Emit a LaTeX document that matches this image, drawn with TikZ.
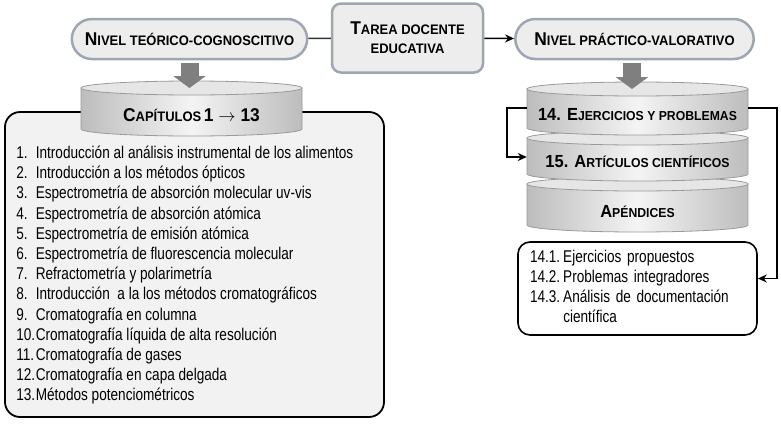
\documentclass[tikz,border=0pt]{standalone}
\usepackage{fontspec}
\setmainfont{Liberation Sans}[FakeStretch=0.8]
\newfontfamily\headfont{Liberation Sans}[FakeStretch=0.94]
\usetikzlibrary{arrows.meta, positioning, shapes.misc}

\definecolor{pillEdge}{HTML}{9EA6B4}
\definecolor{pillFill}{HTML}{EDEDED}
\definecolor{drumDark}{HTML}{BDBDBD}
\definecolor{drumLight}{HTML}{F4F4F4}
\definecolor{drumTop}{HTML}{E6E6E6}
\definecolor{drumEdge}{HTML}{9A9A9A}
\definecolor{boxFill}{HTML}{F2F2F2}
\definecolor{arrowGray}{HTML}{7F7F7F}

% big first letters, the rest in fake small caps
\newcommand{\scap}[2]{{\fontsize{18.5}{20}\selectfont #1}{\fontsize{13.8}{16}\selectfont\MakeUppercase{#2}}}
% same, a bit smaller for the drum segments
\newcommand{\dcap}[2]{{\fontsize{17.5}{20}\selectfont #1}{\fontsize{13}{16}\selectfont\MakeUppercase{#2}}}
% one list entry with its number
\newcommand{\chap}[2]{\makebox[19.5pt][l]{#1}#2}
% a drum segment: left x, right x, top y, bottom y
\newcommand{\drum}[4]{%
  \pgfmathsetmacro{\drumrx}{(#2-#1)/2}
  \shadedraw[left color=drumDark, right color=drumDark, middle color=drumLight,
    draw=drumEdge, line width=0.8pt]
    (#1,#3) -- (#1,#4) arc[start angle=180, end angle=360, x radius=\drumrx, y radius=7]
    -- (#2,#3) -- cycle;
  \draw[drumEdge, fill=drumTop, line width=0.8pt]
    ({(#1+#2)/2},#3) ellipse [x radius=\drumrx, y radius=7];
}

\begin{document}
\begin{tikzpicture}[
  x=1pt, y=1pt,
  pill/.style={rounded rectangle, draw=pillEdge, fill=pillFill, line width=2.5pt,
    minimum height=40pt, font=\headfont\bfseries},
  task/.style={rounded corners=9pt, draw=pillEdge, fill=pillFill, line width=2.5pt,
    minimum width=151pt, minimum height=69pt, align=center, font=\headfont\bfseries},
  drumtext/.style={minimum width=221pt, inner sep=0pt, font=\headfont\bfseries},
  listbox/.style={rounded corners=15pt, draw=black, line width=1.8pt, fill=boxFill},
  listtext/.style={inner sep=0pt, font=\fontsize{17}{20.2}\selectfont},
  subbox/.style={rounded corners=12pt, draw=black, line width=1.6pt, fill=white,
    minimum width=239pt, minimum height=93pt, text width=215pt, inner xsep=12pt,
    align=left, font=\fontsize{17}{20}\selectfont},
  bigarrow/.style={-{Triangle[width=32pt, length=12pt]}, line width=18pt, arrowGray},
  link/.style={-{Stealth[length=9pt, width=8pt]}, line width=1.5pt}]
  \useasboundingbox (0,0) rectangle (781,-426);

  % top row
  \node[pill, minimum width=242pt] (lvl1) at (189.5,-39) {\scap{N}{ivel teórico-cognoscitivo}};
  \node[task] (task) at (407.5,-38) {\scap{T}{area docente}\\[7pt]{\fontsize{13.8}{16}\selectfont EDUCATIVA}};
  \node[pill, minimum width=245pt] (lvl2) at (634.5,-39) {\scap{N}{ivel práctico-valorativo}};
  \draw[line width=1.5pt, black!80] (lvl1) -- (task);
  \draw[link] (task) -- (lvl2);

  % left column
  \node[listbox, minimum width=379pt, minimum height=305pt] (chapbox) at (194.5,-264.5) {};
  \node[listtext, anchor=north west] (chaplist) at ([xshift=12, yshift=-33]chapbox.north west) {%
    \begin{tabular}{@{}l@{}}
      \chap{1.}{Introducción al análisis instrumental de los alimentos}\\
      \chap{2.}{Introducción a los métodos ópticos}\\
      \chap{3.}{Espectrometría de absorción molecular uv-vis}\\
      \chap{4.}{Espectrometría de absorción atómica}\\
      \chap{5.}{Espectrometría de emisión atómica}\\
      \chap{6.}{Espectrometría de fluorescencia molecular}\\
      \chap{7.}{Refractometría y polarimetría}\\
      \chap{8.}{Introducción\ \ a la los métodos cromatográficos}\\
      \chap{9.}{Cromatografía en columna}\\
      \chap{10.}{Cromatografía líquida de alta resolución}\\
      \chap{11.}{Cromatografía de gases}\\
      \chap{12.}{Cromatografía en capa delgada}\\
      \chap{13.}{Métodos potenciométricos}
    \end{tabular}};
  \drum{81}{302}{-88}{-129}
  \node[drumtext] (chaps) at (191.5,-115) {\scap{C}{apítulos} {\fontsize{18.5}{20}\selectfont 1 $\rightarrow$ 13}};
  \coordinate (drum1top) at (189.5,-88);
  \draw[bigarrow] ([yshift=-3]lvl1.south) -- (drum1top);

  % right column
  \drum{527}{748}{-184}{-225}
  \drum{527}{748}{-138}{-174}
  \drum{527}{748}{-89}{-128}
  \node[drumtext] (s1) at (637.5,-115) {\dcap{14. E}{jercicios y problemas}};
  \node[drumtext] (s2) at (637.5,-162) {\dcap{15. A}{rtículos científicos}};
  \node[drumtext] (s3) at (637.5,-212) {\dcap{A}{péndices}};
  \coordinate (drum2top) at (632,-89);
  \draw[bigarrow] ([yshift=-3]lvl2.south -| drum2top) -- (drum2top);

  \node[subbox] (sub) at (637.5,-288.5) {%
    \begin{tabular}{@{}l@{\hspace{3pt}}l@{}}
      14.1. & Ejercicios propuestos\\
      14.2. & Problemas integradores\\
      14.3. & Análisis de documentación\\
            & científica
    \end{tabular}};
  \draw[link] ([yshift=7]s1.west) -- ++(-20,0) |- ([yshift=5]s2.west);
  \draw[link] ([yshift=7]s1.east) -- ++(29,0) |- ([yshift=10]sub.east);
\end{tikzpicture}
\end{document}
